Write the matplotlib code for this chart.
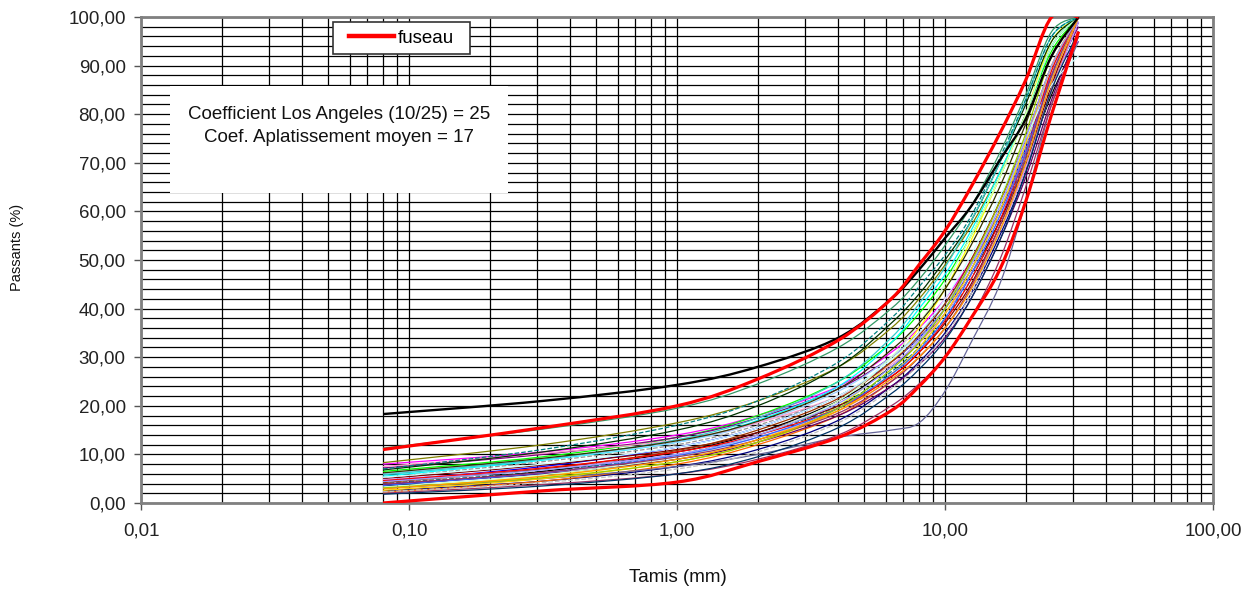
import matplotlib
matplotlib.use("Agg")
import numpy as np
import matplotlib.pyplot as plt
from matplotlib.ticker import FixedLocator, LogLocator, MultipleLocator, FuncFormatter
from matplotlib.patches import Rectangle, PathPatch
from matplotlib.path import Path
from matplotlib.lines import Line2D
from matplotlib.legend_handler import HandlerLine2D

plt.rcParams['font.family'] = ['Liberation Sans', 'DejaVu Sans']

# sieve sizes (mm)
sieves = [0.08, 0.315, 1, 2, 4, 6.3, 8, 10, 12.5, 16, 20, 25, 31.5]

# envelope ("fuseau")
fuseau_upper = [11.0, 15.5, 20.0, 25.5, 33.5, 42.0, 49.0, 56.0, 65.0, 76.0, 87.0, 100.0, 100.0]
fuseau_lower = [0.0, 2.5, 4.3, 8.5, 13.5, 19.0, 24.0, 30.0, 38.0, 48.0, 62.0, 80.0, 97.0]

# coarse black curve above the envelope at fine sizes
black_top = [18.3, 21.0, 24.3, 28.0, 34.0, 42.0, 48.0, 54.5, 61.0, 70.5, 79.0, 92.0, 100.0]

# individual grading curves
curves = [
    [11.3, 15.2, 19.5, 24.5, 32.0, 40.0, 46.0, 53.0, 61.0, 72.0, 84.0, 97.0, 100.0],
    [8.3, 12.0, 16.5, 21.0, 28.0, 36.0, 42.0, 49.0, 57.0, 68.0, 80.0, 94.0, 100.0],
    [8.0, 10.5, 14.0, 18.0, 24.0, 31.0, 36.0, 42.0, 50.0, 62.0, 75.0, 88.0, 95.0],
    [6.5, 9.5, 13.5, 18.0, 25.0, 33.0, 39.0, 46.0, 55.0, 67.0, 80.0, 93.0, 100.0],
    [7.2, 10.0, 13.5, 17.5, 23.5, 30.0, 35.0, 41.0, 49.0, 60.0, 72.0, 87.0, 98.0],
    [5.5, 8.8, 12.5, 17.0, 24.0, 33.0, 40.0, 47.0, 56.0, 68.0, 80.0, 94.0, 100.0],
    [4.5, 7.5, 11.5, 15.5, 22.0, 29.0, 34.0, 40.0, 48.0, 60.0, 73.0, 88.0, 100.0],
    [3.0, 5.5, 9.0, 13.0, 20.0, 29.0, 36.0, 44.0, 54.0, 67.0, 80.0, 95.0, 100.0],
    [4.0, 6.5, 10.0, 14.0, 20.0, 27.0, 32.0, 38.0, 46.0, 58.0, 71.0, 87.0, 100.0],
    [2.5, 4.5, 7.5, 11.0, 17.0, 24.0, 29.0, 35.0, 43.0, 55.0, 68.0, 85.0, 99.0],
    [3.5, 6.5, 10.5, 14.5, 21.0, 28.0, 33.0, 39.0, 47.0, 58.0, 70.0, 84.0, 96.0],
    [5.0, 7.8, 11.0, 14.5, 20.0, 26.0, 31.0, 37.0, 45.0, 57.0, 70.0, 86.0, 100.0],
    [2.2, 4.5, 8.0, 12.0, 18.0, 25.0, 30.0, 36.0, 44.0, 56.0, 69.0, 85.0, 100.0],
    [6.0, 9.0, 12.5, 16.5, 23.0, 30.0, 35.0, 41.0, 49.0, 61.0, 74.0, 89.0, 100.0],
    [7.5, 10.2, 13.0, 16.5, 22.0, 28.5, 33.0, 39.0, 47.0, 59.0, 72.0, 87.0, 100.0],
    [5.2, 8.5, 12.0, 16.0, 22.0, 29.0, 34.0, 40.0, 48.0, 60.0, 73.0, 88.0, 100.0],
    [4.8, 7.0, 10.0, 13.5, 19.0, 25.5, 30.0, 36.0, 44.0, 56.0, 69.0, 85.0, 99.0],
    [6.8, 10.5, 15.0, 20.0, 28.0, 37.0, 43.0, 50.0, 58.0, 70.0, 82.0, 95.0, 100.0],
    [3.8, 6.0, 9.0, 12.5, 18.0, 24.0, 28.5, 34.0, 42.0, 54.0, 67.0, 83.0, 97.0],
    [4.2, 7.0, 10.8, 15.0, 21.5, 29.0, 34.5, 41.0, 50.0, 62.0, 75.0, 90.0, 100.0],
    [3.0, 5.0, 7.5, 10.0, 13.5, 15.0, 16.5, 23.0, 33.0, 45.0, 62.0, 82.0, 95.0],
    [2.0, 3.8, 6.0, 9.0, 14.0, 20.0, 24.5, 30.0, 38.0, 50.0, 65.0, 82.0, 96.0],
    [5.8, 9.0, 13.0, 17.5, 25.0, 34.0, 41.0, 48.5, 58.0, 70.0, 83.0, 96.0, 100.0],
    [3.3, 5.8, 9.5, 14.0, 21.0, 30.0, 37.0, 45.0, 55.0, 67.0, 80.0, 94.0, 100.0],
    [2.6, 5.0, 8.5, 12.5, 19.0, 26.5, 32.0, 39.0, 48.0, 60.0, 74.0, 90.0, 100.0],
    [4.6, 7.2, 10.5, 14.0, 19.5, 26.0, 31.0, 37.5, 46.0, 58.0, 72.0, 89.0, 100.0],
    [5.3, 8.0, 11.5, 15.5, 22.0, 29.5, 35.0, 42.0, 51.0, 63.0, 75.0, 86.0, 92.0],
    [3.6, 6.2, 9.8, 13.5, 19.5, 26.5, 31.5, 38.0, 47.0, 59.0, 72.0, 88.0, 100.0],
    [6.2, 9.2, 12.8, 16.8, 23.5, 31.5, 37.0, 44.0, 53.0, 65.0, 78.0, 92.0, 100.0],
    [3.9, 6.3, 9.5, 13.0, 18.5, 25.0, 30.0, 36.0, 44.5, 57.0, 71.0, 88.0, 100.0],
    [7.0, 11.0, 16.0, 21.0, 29.0, 38.0, 44.5, 51.0, 59.0, 71.0, 83.0, 96.0, 100.0],
    [2.3, 4.2, 7.0, 10.5, 16.5, 23.5, 28.5, 34.5, 43.0, 56.0, 70.0, 87.0, 100.0],
    [1.8, 3.5, 6.0, 9.5, 15.5, 22.5, 27.5, 33.5, 42.0, 54.0, 68.0, 85.0, 97.0],
    [4.4, 6.8, 10.0, 14.0, 20.5, 28.0, 33.5, 40.0, 49.0, 61.0, 75.0, 90.0, 100.0],
    [3.1, 5.2, 8.5, 12.5, 19.5, 27.5, 33.0, 40.0, 49.5, 62.0, 76.0, 92.0, 100.0],
    [2.9, 5.5, 9.0, 13.0, 19.0, 25.5, 30.0, 36.0, 44.0, 56.0, 70.0, 87.0, 100.0],
]

curve_colors = [
    '#339966', '#808000', '#FF00FF', '#00FF00', '#800080', '#00FFFF',
    '#0000FF', '#FFFF00', '#008080', '#000080', '#000000', '#800000',
    '#FF6600', '#99CCFF', '#FF99CC', '#969696', '#CC99FF', '#003300',
    '#660066', '#993300', '#666699', '#993366', '#33CCCC', '#CCFFCC',
    '#FFCC00', '#FF0000', '#CCFFFF', '#3366FF', '#333300', '#993366',
    '#008080', '#C0C0C0', '#003366', '#9999FF', '#99CC00', '#FF9900',
]
dashed = {8, 15, 30, 31}


def smooth_path(xs, ys):
    # excel-like smoothed line: bezier segments through the points (log x)
    lx = np.log10(xs)
    pts = np.column_stack([lx, ys])
    n = len(pts)
    verts = [pts[0]]
    codes = [Path.MOVETO]
    for i in range(n - 1):
        p_prev = pts[max(i - 1, 0)]
        p0, p1 = pts[i], pts[i + 1]
        p_next = pts[min(i + 2, n - 1)]
        c1 = p0 + (p1 - p_prev) / 6
        c2 = p1 - (p_next - p0) / 6
        verts += [c1, c2, p1]
        codes += [Path.CURVE4] * 3
    verts = np.array(verts)
    verts[:, 0] = 10 ** verts[:, 0]
    return Path(verts, codes)


def draw_curve(ax, xs, ys, **kw):
    patch = PathPatch(smooth_path(xs, ys), fill=False, **kw)
    ax.add_patch(patch)


fig = plt.figure(figsize=(12.55, 5.9), dpi=100)
ax = fig.add_axes([141 / 1255, 1 - 503 / 590, (1213 - 141) / 1255, (503 - 17) / 590])

ax.set_xscale('log')
ax.set_xlim(0.01, 100)
ax.set_ylim(0, 100)

for i, (vals, col) in enumerate(zip(curves, curve_colors)):
    draw_curve(ax, sieves, vals, edgecolor=col, lw=0.9, zorder=3,
               linestyle='--' if i in dashed else '-')

draw_curve(ax, sieves, black_top, edgecolor='black', lw=1.7, zorder=4)
draw_curve(ax, sieves, fuseau_upper, edgecolor='#FF0000', lw=2.3, zorder=5)
draw_curve(ax, sieves, fuseau_lower, edgecolor='#FF0000', lw=2.3, zorder=5)

ax.xaxis.set_major_locator(FixedLocator([0.01, 0.1, 1, 10, 100]))
ax.xaxis.set_minor_locator(LogLocator(base=10, subs=range(2, 10), numticks=20))
ax.xaxis.set_major_formatter(FuncFormatter(lambda v, p: f"{v:.2f}".replace('.', ',')))
ax.yaxis.set_major_locator(MultipleLocator(10))
ax.yaxis.set_minor_locator(MultipleLocator(2))
ax.yaxis.set_major_formatter(FuncFormatter(lambda v, p: f"{v:.2f}".replace('.', ',')))

ax.grid(which='both', color='black', lw=0.9)
ax.tick_params(which='major', direction='out', length=5, width=1, color='#555555',
               labelsize=13.5, labelcolor='#222222')
ax.tick_params(axis='x', which='major', pad=9)
ax.tick_params(axis='y', which='major', pad=6)
ax.tick_params(which='minor', length=0)

for sp in ax.spines.values():
    sp.set_color('#808080')
    sp.set_linewidth(2)

# white text box over the grid
box = Rectangle((170 / 1255, 1 - 193 / 590), (508 - 170) / 1255, (193 - 86) / 590,
                transform=fig.transFigure, facecolor='white', edgecolor='none', zorder=2.5)
ax.add_patch(box)
fig.text(339 / 1255, 1 - 126 / 590,
         "Coefficient Los Angeles (10/25) = 25\nCoef. Aplatissement moyen = 17",
         ha='center', va='center', fontsize=13.5, color='#111111', linespacing=1.45, zorder=6)

fuseau_handle = Line2D([], [], color='#FF0000', lw=3.2)
leg = ax.legend([fuseau_handle], ['fuseau'], loc='upper left',
                bbox_to_anchor=(333 / 1255, 1 - 55 / 590, 137 / 1255, 33 / 590),
                bbox_transform=fig.transFigure, mode='expand', fontsize=13.5,
                handlelength=2.85, handletextpad=0.2, borderpad=0.4, borderaxespad=0,
                fancybox=False, framealpha=1, edgecolor='#333333',
                handler_map={fuseau_handle: HandlerLine2D(xpad=0.45)})
leg.get_frame().set_linewidth(1.2)
leg.set_zorder(7)

fig.text(17 / 1255, 1 - 247 / 590, "Passants (%)", rotation=90, ha='center', va='center',
         fontsize=10.5, color='#111111')
fig.text(678 / 1255, 1 - 577 / 590, "Tamis (mm)", ha='center', va='center',
         fontsize=13.5, color='#111111')

fig.savefig('out.png', dpi=100)
